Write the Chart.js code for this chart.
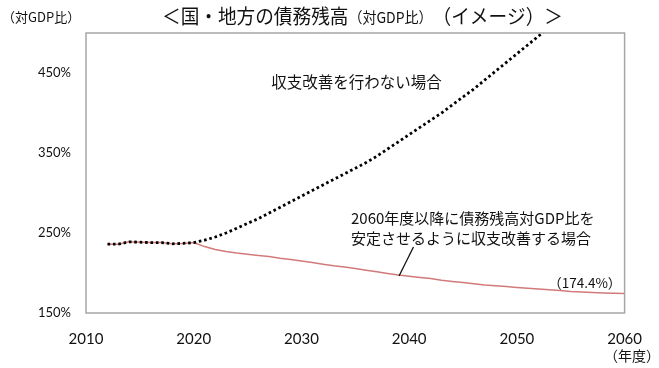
<!DOCTYPE html>
<html><head><meta charset="utf-8">
<script src="https://cdn.jsdelivr.net/npm/chart.js@4.4.1/dist/chart.umd.min.js"></script>
<style>html,body{margin:0;padding:0;background:#fff;}#wrap{width:659px;height:368px;position:relative;}</style>
</head><body><div id="wrap"><canvas id="c" width="659" height="368"></canvas></div>
<script>
// ---- data ----
const yearsStable = [2012,2013,2014,2015,2016,2017,2018,2019,2020,2021,2022,2023,2024,2025,2026,2027,2028,2029,2030,2031,2032,2033,2034,2035,2036,2037,2038,2039,2040,2041,2042,2043,2044,2045,2046,2047,2048,2049,2050,2051,2052,2053,2054,2055,2056,2057,2058,2059,2060];
const stableValues = [236,236,239,238.5,238,238,236.5,237,238,233,229.5,227,225,223.5,222,220.5,218.5,217,215,213,211,209,207.5,205.5,203.5,201.5,199.5,197.5,196,194.5,193,191,189.5,188,186.5,185,184,183,182,181,180,179,178,177,176.3,175.6,175,174.6,174.4];
const yearsNoReform = [2012,2013,2014,2015,2016,2017,2018,2019,2020,2021,2022,2023,2024,2025,2026,2027,2028,2029,2030,2031,2032,2033,2034,2035,2036,2037,2038,2039,2040,2041,2042,2043,2044,2045,2046,2047,2048,2049,2050,2051,2052,2053];
const noReformValues = [236,236,239,238.5,238,238,236.5,237,238,241,245,250,256,262,268,275,282,289,296,303,310,317,324,331,338,346,355,364,373,382,391,400,410,420,430,441,452,463,474,485,496,507];
const yTicks = [150,250,350,450];
const xTicks = [2010,2020,2030,2040,2050,2060];
const titleMain = '＜国・地方の債務残高';
const titleSub = '（対GDP比）';
const titleEnd = '（イメージ）＞';
const yUnit = '（対GDP比）';
const xUnit = '（年度）';
const labelNoReform = '収支改善を行わない場合';
const labelStable1 = '2060年度以降に債務残高対GDP比を';
const labelStable2 = '安定させるように収支改善する場合';
const labelEnd = '（174.4%）';

const toXY = (xs, ys) => xs.map((x, i) => ({x: x, y: ys[i]}));

const JP = '"Noto Sans CJK JP", "Noto Sans", sans-serif';
const NUM = 'Lato, "Liberation Sans", sans-serif';

const overlay = {
  id: 'overlay',
  afterDraw(chart) {
    const ctx = chart.ctx, xs = chart.scales.x, ys = chart.scales.y, a = chart.chartArea;
    ctx.save();
    // plot frame
    ctx.strokeStyle = '#a6a6a6'; ctx.lineWidth = 1.5;
    ctx.strokeRect(a.left, a.top, a.right - a.left, a.bottom - a.top);
    ctx.fillStyle = '#111';
    ctx.textBaseline = 'middle';
    // title (compressed to the reference width)
    const f1 = '20px ' + JP, f2 = '15px ' + JP;
    ctx.font = f1; const w1 = ctx.measureText(titleMain).width, w3 = ctx.measureText(titleEnd).width;
    ctx.font = f2; const w2 = ctx.measureText(titleSub).width;
    const k = 401 / (w1 + w2 + w3);
    let tx = 162;
    ctx.textAlign = 'left';
    ctx.font = f1; ctx.fillText(titleMain, tx, 16, w1 * k); tx += w1 * k;
    ctx.font = f2; ctx.fillText(titleSub, tx, 17, w2 * k); tx += w2 * k;
    ctx.font = f1; ctx.fillText(titleEnd, tx, 16, w3 * k);
    // axis units
    ctx.font = '13px ' + JP;
    ctx.fillText(yUnit, 2, 17);
    ctx.textAlign = 'center';
    ctx.font = '14px ' + JP;
    ctx.fillText(xUnit, 632, 356);
    // annotations
    ctx.font = '15.5px ' + JP;
    ctx.fillText(labelNoReform, xs.getPixelForValue(2035.1), ys.getPixelForValue(439));
    ctx.textAlign = 'left';
    ctx.font = '15px ' + JP;
    ctx.fillText(labelStable1, xs.getPixelForValue(2034.6), ys.getPixelForValue(268.5));
    ctx.fillText(labelStable2, xs.getPixelForValue(2034.6), ys.getPixelForValue(243.5));
    ctx.textAlign = 'center';
    ctx.font = '13.5px ' + JP;
    ctx.fillText(labelEnd, xs.getPixelForValue(2056.3), ys.getPixelForValue(187.5));
    // leader line
    ctx.strokeStyle = '#111'; ctx.lineWidth = 1.3;
    ctx.beginPath();
    ctx.moveTo(xs.getPixelForValue(2040.4), ys.getPixelForValue(232.5));
    ctx.lineTo(xs.getPixelForValue(2039.06), ys.getPixelForValue(196.25));
    ctx.stroke();
    ctx.restore();
  }
};

new Chart(document.getElementById('c'), {
  type: 'line',
  data: {
    datasets: [
      { label: 'stable', data: toXY(yearsStable, stableValues), borderColor: '#d27a7a', borderWidth: 1.5, pointRadius: 0, tension: 0, order: 2 },
      { label: 'noreform', data: toXY(yearsNoReform, noReformValues), borderColor: '#000', borderWidth: 2.8, borderDash: [2.6, 2.8], borderCapStyle: 'butt', pointRadius: 0, tension: 0, order: 1 }
    ]
  },
  plugins: [overlay],
  options: {
    responsive: false, animation: false,
    layout: { padding: { top: 33, right: 31, left: 0, bottom: 0 } },
    plugins: { legend: { display: false }, tooltip: { enabled: false }, title: { display: false } },
    scales: {
      x: {
        type: 'linear', min: 2010, max: 2060,
        grid: { display: false, drawTicks: false },
        border: { display: false },
        afterBuildTicks: s => { s.ticks = xTicks.map(v => ({value: v})); },
        afterFit: s => { s.height = 55; },
        ticks: { color: '#111', font: { family: NUM, size: 15 }, padding: 17, maxRotation: 0, callback: v => String(v) }
      },
      y: {
        min: 150, max: 500,
        grid: { display: false, drawTicks: false },
        border: { display: false },
        afterBuildTicks: s => { s.ticks = yTicks.map(v => ({value: v})); },
        afterFit: s => { s.width = 86; },
        ticks: { color: '#111', font: { family: NUM, size: 13 }, padding: 15, callback: v => v + '%' }
      }
    }
  }
});
</script></body></html>
